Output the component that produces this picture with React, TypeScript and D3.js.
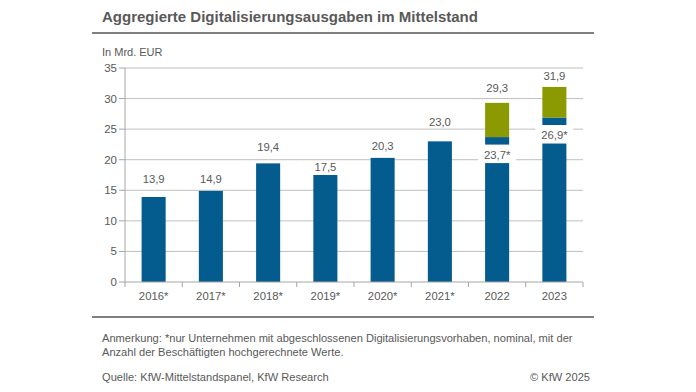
import React from 'react';
import * as d3 from 'd3';

const years = ['2016*', '2017*', '2018*', '2019*', '2020*', '2021*', '2022', '2023'];
const baseValues = [13.9, 14.9, 19.4, 17.5, 20.3, 23.0, 23.7, 26.9];
const totalValues = [13.9, 14.9, 19.4, 17.5, 20.3, 23.0, 29.3, 31.9];
const baseLabels = ['', '', '', '', '', '', '23,7*', '26,9*'];
const yTicks = [0, 5, 10, 15, 20, 25, 30, 35];

const W = 696;
const H = 392;
const BLUE = '#035b8e';
const GREEN = '#8a9a00';
const TEXT = '#595959';
const FONT = '"Liberation Sans", Arial, sans-serif';

const fmt = (v: number) => v.toFixed(1).replace('.', ',');

export default function App() {
  const x = d3.scaleBand<string>()
    .domain(years)
    .range([125, 583])
    .paddingInner(0.58)
    .paddingOuter(0.29);

  const y = d3.scaleLinear().domain([0, 35]).range([282, 68]);

  const step = x.step();
  const bw = x.bandwidth();

  // Abstand Beschriftung über Balken (px), im Original von Hand gesetzt
  const lift = [14, 8, 12, 4.5, 8, 15.5, 11, 6.5];

  return (
    <svg width={W} height={H} style={{ position: 'absolute', left: 0, top: 0 }} fontFamily={FONT}>
      <rect width={W} height={H} fill="#fff" />

      {/* Titel */}
      <text x={102} y={22} fontSize={15} fontWeight="bold" fill={TEXT}>
        Aggregierte Digitalisierungsausgaben im Mittelstand
      </text>
      <line x1={92} x2={594} y1={33} y2={33} stroke="#7f7f7f" strokeWidth={2} />
      <text x={102} y={56} fontSize={11} fill={TEXT}>In Mrd. EUR</text>

      {/* Gitternetz + y-Achse */}
      {yTicks.map(t => (
        <g key={t}>
          {t > 0 && (
            <line x1={125} x2={583} y1={y(t)} y2={y(t)} stroke="#bfbfbf" strokeWidth={1} />
          )}
          <line x1={119} x2={125} y1={y(t)} y2={y(t)} stroke="#a6a6a6" strokeWidth={1} />
          <text x={117} y={y(t) + 4} fontSize={11.5} fill={TEXT} textAnchor="end">{t}</text>
        </g>
      ))}
      <line x1={125} x2={125} y1={y(35)} y2={y(0)} stroke="#a6a6a6" strokeWidth={1} />

      {/* Balken */}
      {years.map((yr, i) => {
        const bx = x(yr)!;
        const cx = bx + bw / 2;
        const base = baseValues[i];
        const total = totalValues[i];
        return (
          <g key={yr}>
            <rect x={bx} width={bw} y={y(base)} height={y(0) - y(base)} fill={BLUE} />
            {total > base && (
              <rect x={bx} width={bw} y={y(total)} height={y(base) - y(total)} fill={GREEN} />
            )}
            <text x={cx} y={y(total) - lift[i]} fontSize={11.3} fill={TEXT} textAnchor="middle">
              {fmt(total)}
            </text>
            {baseLabels[i] && (
              <g>
                <rect x={cx - 19} width={38} y={y(base) + 7.5} height={18.5} fill="#fff" />
                <text x={cx} y={y(base) + 21.5} fontSize={11.3} fill={TEXT} textAnchor="middle">
                  {baseLabels[i]}
                </text>
              </g>
            )}
          </g>
        );
      })}

      {/* x-Achse */}
      <line x1={125} x2={583} y1={y(0)} y2={y(0)} stroke="#a6a6a6" strokeWidth={1} />
      {d3.range(years.length + 1).map(k => (
        <line key={k} x1={125 + k * step} x2={125 + k * step} y1={y(0)} y2={y(0) + 5} stroke="#a6a6a6" />
      ))}
      {years.map(yr => (
        <text key={yr} x={x(yr)! + bw / 2} y={300} fontSize={11.3} fill={TEXT} textAnchor="middle">
          {yr}
        </text>
      ))}

      {/* Fußzeile */}
      <line x1={92} x2={594} y1={317} y2={317} stroke="#7f7f7f" strokeWidth={2} />
      <text x={102} y={341.5} fontSize={11.1} fill={TEXT}>
        Anmerkung: *nur Unternehmen mit abgeschlossenen Digitalisierungsvorhaben, nominal, mit der
      </text>
      <text x={102} y={356} fontSize={11.1} fill={TEXT}>
        Anzahl der Beschäftigten hochgerechnete Werte.
      </text>
      <text x={102} y={381} fontSize={11.1} fill={TEXT}>
        Quelle: KfW-Mittelstandspanel, KfW Research
      </text>
      <text x={590} y={381} fontSize={11.1} fill={TEXT} textAnchor="end">
        © KfW 2025
      </text>
    </svg>
  );
}
